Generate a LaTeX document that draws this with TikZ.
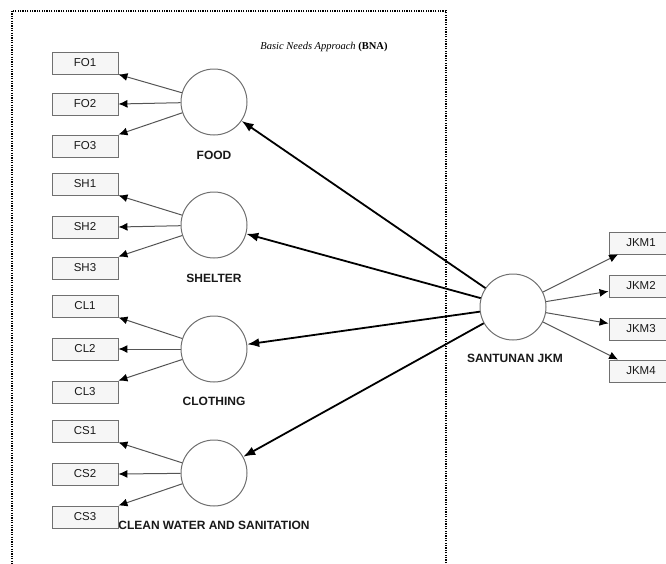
\documentclass[tikz,border=0pt]{standalone}
\usepackage{fontspec}
\setmainfont{Liberation Sans}
\newfontfamily\timesfont{Liberation Serif}
\usetikzlibrary{arrows.meta}
\definecolor{linegray}{HTML}{555555}
\definecolor{boxgray}{HTML}{707070}
\definecolor{boxfill}{HTML}{F6F6F6}
\tikzset{
  ind/.style={draw=boxgray, fill=boxfill, line width=0.9pt, minimum width=66pt, minimum height=22pt, inner sep=0pt, font=\fontsize{11.5}{11.5}\selectfont, text=black!90},
  lat/.style={circle, draw=boxgray, fill=white, line width=1pt, minimum size=66pt, inner sep=0pt},
  latlabel/.style={font=\fontsize{12}{12}\selectfont\bfseries, text=black!90, inner sep=0pt},
  thinarrow/.style={draw=linegray, line width=1pt, -{Latex[length=9pt,width=8pt,color=black]}},
  thickarrow/.style={draw=black, line width=1.8pt, -{Latex[length=12pt,width=9pt]}},
}
\begin{document}
\begin{tikzpicture}[x=1pt,y=-1pt]
\useasboundingbox (0,0) rectangle (666,563);
\clip (0,0) rectangle (666,563);
\draw[line width=1.2pt, dash pattern=on 1.2pt off 1.2pt] (12,11) rectangle (446,580);
\node[font=\timesfont\fontsize{10.5}{10.5}\selectfont] (title) at (324,47) {\textit{Basic Needs Approach} \textbf{(BNA)}};

% latent variables
\node[lat] (food) at (214,102) {};
\node[lat] (shelter) at (214,225) {};
\node[lat] (cloth) at (214,349) {};
\node[lat] (clean) at (214,473) {};
\node[lat] (sant) at (513,307) {};

\node[latlabel] (foodl) at (214,155) {FOOD};
\node[latlabel] (shelterl) at (214,278) {SHELTER};
\node[latlabel] (clothl) at (214,401) {CLOTHING};
\node[latlabel] (cleanl) at (214,525) {CLEAN WATER AND SANITATION};
\node[latlabel] (santl) at (515,358) {SANTUNAN JKM};

% indicators
\node[ind] (fo1) at (85,63) {FO1};
\node[ind] (fo2) at (85,104) {FO2};
\node[ind] (fo3) at (85,146) {FO3};
\node[ind] (sh1) at (85,184) {SH1};
\node[ind] (sh2) at (85,227) {SH2};
\node[ind] (sh3) at (85,268) {SH3};
\node[ind] (cl1) at (85,306) {CL1};
\node[ind] (cl2) at (85,349) {CL2};
\node[ind] (cl3) at (85,392) {CL3};
\node[ind] (cs1) at (85,431) {CS1};
\node[ind] (cs2) at (85,474) {CS2};
\node[ind] (cs3) at (85,517) {CS3};
\node[ind, minimum width=64pt] (j1) at (641,243) {JKM1};
\node[ind, minimum width=64pt] (j2) at (641,286) {JKM2};
\node[ind, minimum width=64pt] (j3) at (641,329) {JKM3};
\node[ind, minimum width=64pt] (j4) at (641,371) {JKM4};

% indicator arrows
\draw[thinarrow] (food) -- (fo1.south east);
\draw[thinarrow] (food) -- (fo2.east);
\draw[thinarrow] (food) -- (fo3.north east);
\draw[thinarrow] (shelter) -- (sh1.south east);
\draw[thinarrow] (shelter) -- (sh2.east);
\draw[thinarrow] (shelter) -- (sh3.north east);
\draw[thinarrow] (cloth) -- (cl1.south east);
\draw[thinarrow] (cloth) -- (cl2.east);
\draw[thinarrow] (cloth) -- (cl3.north east);
\draw[thinarrow] (clean) -- (cs1.south east);
\draw[thinarrow] (clean) -- (cs2.east);
\draw[thinarrow] (clean) -- (cs3.north east);
\draw[thinarrow] (sant) -- (j1);
\draw[thinarrow] (sant) -- (j2);
\draw[thinarrow] (sant) -- (j3);
\draw[thinarrow] (sant) -- (j4);

% structural arrows
\draw[thickarrow] (sant) -- (food);
\draw[thickarrow] (sant) -- (shelter);
\draw[thickarrow] (sant) -- (cloth);
\draw[thickarrow] (sant) -- (clean);
\end{tikzpicture}
\end{document}
